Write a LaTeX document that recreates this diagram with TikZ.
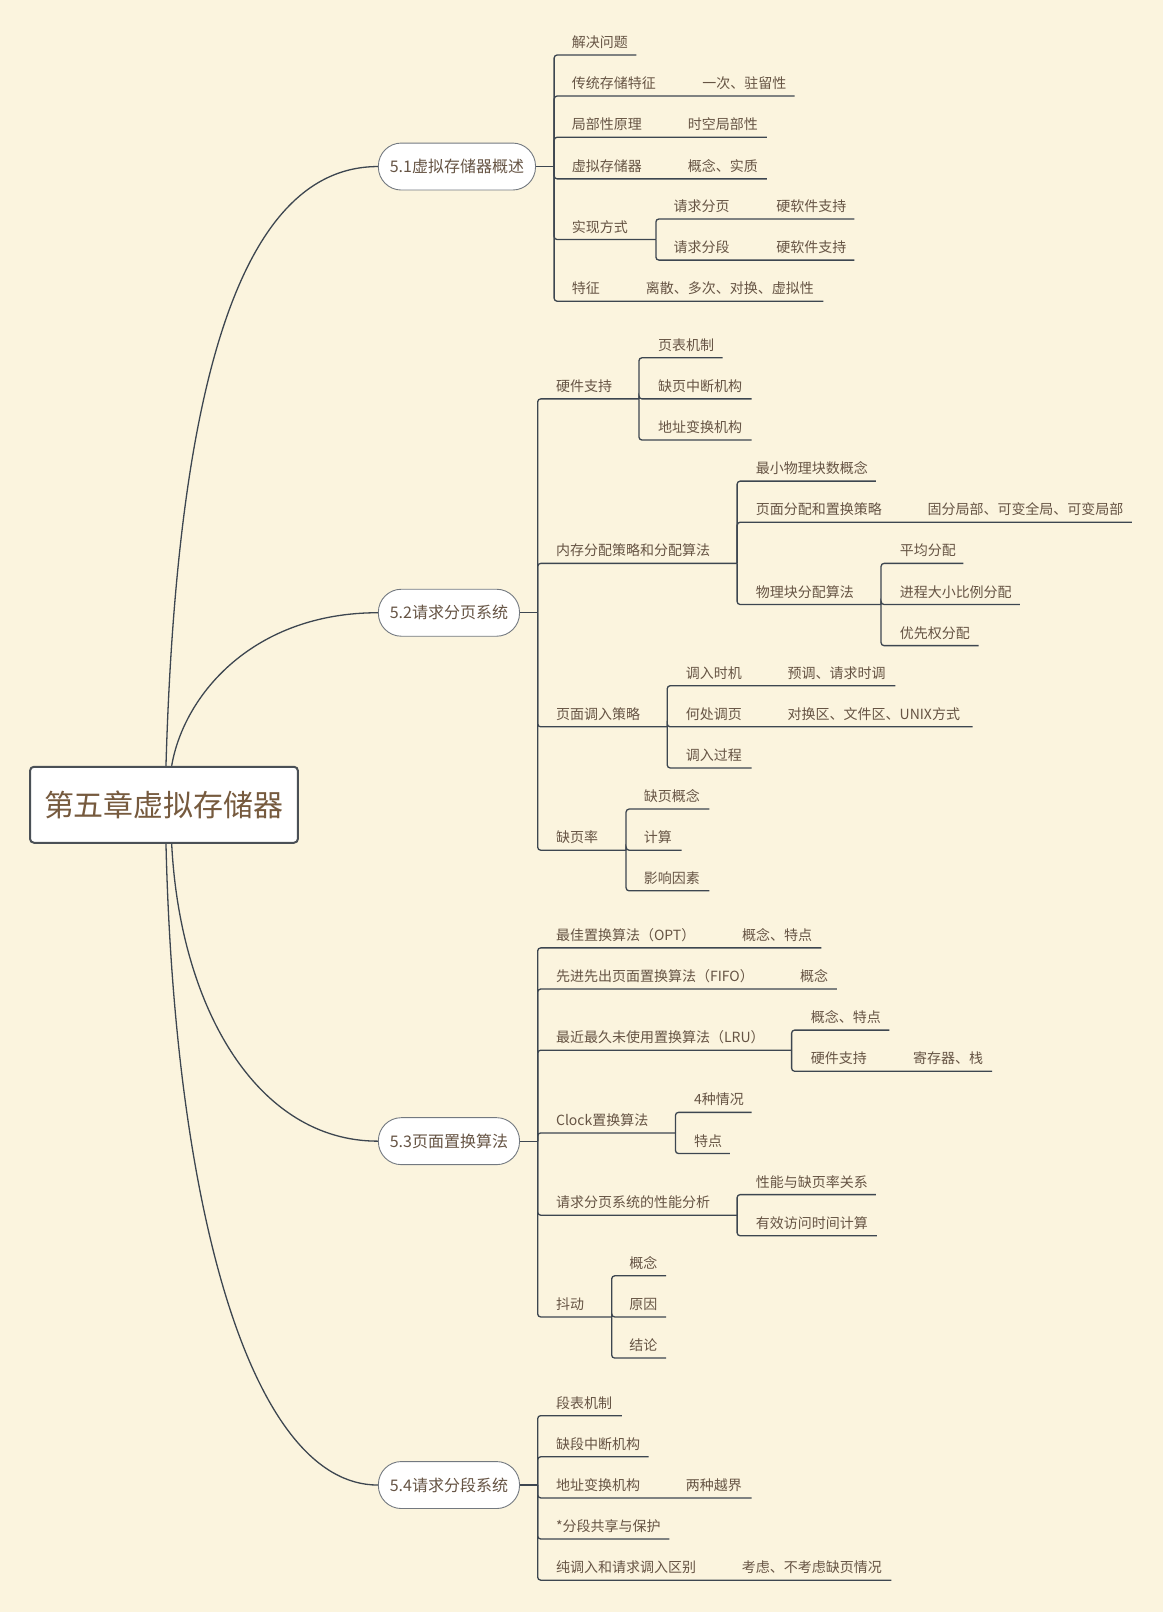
\documentclass[tikz,border=0pt]{standalone}
\usepackage{fontspec}
\newfontfamily\cjk{Noto Sans CJK SC}
\definecolor{bgc}{HTML}{FBF4DE}
\definecolor{lnc}{HTML}{3D4650}
\definecolor{txc}{HTML}{665444}
\definecolor{rtc}{HTML}{765A3E}
\definecolor{pbc}{HTML}{737980}
\definecolor{rbc}{HTML}{4A5056}
\tikzset{
  ln/.style={draw=lnc,line width=1.3pt,rounded corners=3pt},
  lt/.style={font=\cjk\fontsize{14}{16}\selectfont,text=txc,inner sep=0pt,anchor=base west},
  pill/.style={draw=pbc,line width=0.9pt,fill=white,rounded corners=23pt,minimum height=47pt,
    inner xsep=11.5pt,inner ysep=0pt,anchor=west,font=\cjk\fontsize{16}{18}\selectfont,text=txc},
  rootbox/.style={draw=rbc,line width=2pt,fill=white,rounded corners=4pt,minimum width=268pt,
    minimum height=76pt,inner sep=0pt,font=\cjk\fontsize{30}{34}\selectfont,text=rtc}
}
% #1 junction, #2 name, #3 text x, #4 underline y, #5 underline end x, #6 text
\newcommand\mmbranch[6]{%
  \node[lt] (#2) at (#3,#4-7.2) {#6};
  \coordinate (#2u) at (#5,#4);
  \draw[ln] (#1) |- (#2u);}
% #1 name, #2 x, #3 underline y, #4 text
\newcommand\mmkid[4]{\node[lt] (#1) at (#2,#3-7.2) {#4};}
\begin{document}
\begin{tikzpicture}[x=1.0283pt,y=-1.0283pt]
\fill[bgc] (0,0) rectangle (1131,1568);
\useasboundingbox (0,0) rectangle (1131,1568);

\node[rootbox] (root) at (159.5,782.8) {第五章虚拟存储器};
\node[pill] (n1) at (367.6,162) {5.1虚拟存储器概述};
\node[pill] (n2) at (367.6,596) {5.2请求分页系统};
\node[pill] (n3) at (367.6,1110) {5.3页面置换算法};
\node[pill] (n4) at (367.6,1444.5) {5.4请求分段系统};

\draw[ln] ([xshift=2pt]root.north) .. controls (172,380) and (232,162) .. (n1.west);
\draw[ln] ([xshift=7.7pt]root.north) .. controls (179,675) and (247,596) .. (n2.west);
\draw[ln] ([xshift=7.7pt]root.south) .. controls (175,980) and (250,1110) .. (n3.west);
\draw[ln] ([xshift=2pt]root.south) .. controls (170,1180) and (245,1444.5) .. (n4.west);

% ---------- 5.1 ----------
\coordinate (j1) at (539,162);
\draw[ln] (n1.east) -- (j1);
\mmbranch{j1}{a1}{556}{53.5}{619}{解决问题}
\mmbranch{j1}{a2}{556}{93.4}{773}{传统存储特征}
\mmkid{a2c}{683}{93.4}{一次、驻留性}
\mmbranch{j1}{a3}{556}{133.5}{746}{局部性原理}
\mmkid{a3c}{669}{133.5}{时空局部性}
\mmbranch{j1}{a4}{556}{174}{746}{虚拟存储器}
\mmkid{a4c}{669}{174}{概念、实质}
\mmbranch{j1}{a5}{556}{233}{638}{实现方式}
\mmbranch{a5u}{a51}{655}{213}{831}{请求分页}
\mmkid{a51c}{755}{213}{硬软件支持}
\mmbranch{a5u}{a52}{655}{253}{831}{请求分段}
\mmkid{a52c}{755}{253}{硬软件支持}
\mmbranch{j1}{a6}{556}{293}{801}{特征}
\mmkid{a6c}{628}{293}{离散、多次、对换、虚拟性}

% ---------- 5.2 ----------
\coordinate (j2) at (523,596);
\draw[ln] (n2.east) -- (j2);
\mmbranch{j2}{b1}{540.7}{388}{621.5}{硬件支持}
\mmbranch{b1u}{b11}{640}{348}{703}{页表机制}
\mmbranch{b1u}{b12}{640}{388}{731}{缺页中断机构}
\mmbranch{b1u}{b13}{640}{428}{731}{地址变换机构}
\mmbranch{j2}{b2}{540.7}{548}{717}{内存分配策略和分配算法}
\mmbranch{b2u}{b21}{735}{468}{852}{最小物理块数概念}
\mmbranch{b2u}{b22}{735}{508}{1101}{页面分配和置换策略}
\mmkid{b22c}{902}{508}{固分局部、可变全局、可变局部}
\mmbranch{b2u}{b23}{735}{588}{857}{物理块分配算法}
\mmbranch{b23u}{b231}{875}{548}{937}{平均分配}
\mmbranch{b23u}{b232}{875}{588}{992}{进程大小比例分配}
\mmbranch{b23u}{b233}{875}{628}{952}{优先权分配}
\mmbranch{j2}{b3}{540.7}{707}{649}{页面调入策略}
\mmbranch{b3u}{b31}{667}{667}{871}{调入时机}
\mmkid{b31c}{766}{667}{预调、请求时调}
\mmbranch{b3u}{b32}{667}{707}{946}{何处调页}
\mmkid{b32c}{766}{707}{对换区、文件区、UNIX方式}
\mmbranch{b3u}{b33}{667}{747}{731}{调入过程}
\mmbranch{j2}{b4}{540.7}{827}{609}{缺页率}
\mmbranch{b4u}{b41}{626}{787}{690}{缺页概念}
\mmbranch{b4u}{b42}{626}{827}{663}{计算}
\mmbranch{b4u}{b43}{626}{866.5}{690}{影响因素}

% ---------- 5.3 ----------
\coordinate (j3) at (523,1110);
\draw[ln] (n3.east) -- (j3);
\mmbranch{j3}{c1}{540.7}{922}{799}{最佳置换算法（OPT）}
\mmkid{c1c}{721.6}{922}{概念、特点}
\mmbranch{j3}{c2}{540.7}{962}{814}{先进先出页面置换算法（FIFO）}
\mmkid{c2c}{778}{962}{概念}
\mmbranch{j3}{c3}{540.7}{1021.5}{770}{最近最久未使用置换算法（LRU）}
\mmbranch{c3u}{c31}{788.5}{1002}{865}{概念、特点}
\mmbranch{c3u}{c32}{788.5}{1042}{965}{硬件支持}
\mmkid{c32c}{888}{1042}{寄存器、栈}
\mmbranch{j3}{c4}{540.7}{1102}{657}{Clock置换算法}
\mmbranch{c4u}{c41}{675}{1082}{731}{4种情况}
\mmbranch{c4u}{c42}{675}{1122}{710}{特点}
\mmbranch{j3}{c5}{540.7}{1182}{717}{请求分页系统的性能分析}
\mmbranch{c5u}{c51}{735}{1162}{852}{性能与缺页率关系}
\mmbranch{c5u}{c52}{735}{1202}{853}{有效访问时间计算}
\mmbranch{j3}{c6}{540.7}{1281}{595}{抖动}
\mmbranch{c6u}{c61}{612}{1241}{648}{概念}
\mmbranch{c6u}{c62}{612}{1281}{648}{原因}
\mmbranch{c6u}{c63}{612}{1321}{648}{结论}

% ---------- 5.4 ----------
\coordinate (j4) at (523,1444.5);
\draw[ln] (n4.east) -- (j4);
\mmbranch{j4}{d1}{540.7}{1377}{605}{段表机制}
\mmbranch{j4}{d2}{540.7}{1417}{631}{缺段中断机构}
\mmbranch{j4}{d3}{540.7}{1457}{731}{地址变换机构}
\mmkid{d3c}{667}{1457}{两种越界}
\mmbranch{j4}{d4}{540.7}{1497}{651}{*分段共享与保护}
\mmbranch{j4}{d5}{540.7}{1537}{867}{纯调入和请求调入区别}
\mmkid{d5c}{721.5}{1537}{考虑、不考虑缺页情况}
\end{tikzpicture}
\end{document}
